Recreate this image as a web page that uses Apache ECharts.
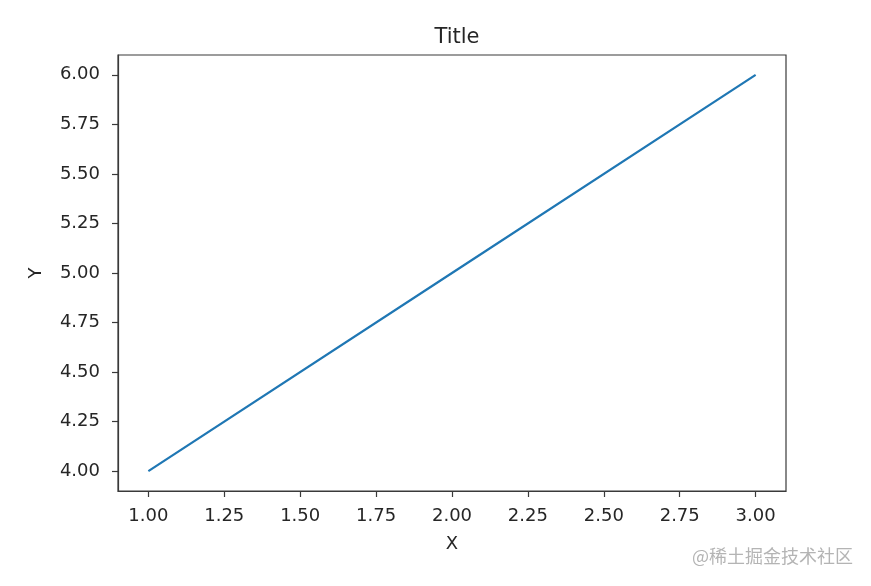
<!DOCTYPE html>
<html>
<head>
<meta charset="utf-8">
<script src="https://cdn.jsdelivr.net/npm/echarts@6/dist/echarts.min.js"></script>
<style>
html,body{margin:0;padding:0;background:#fff;}
#c{width:871px;height:586px;}
</style>
</head>
<body>
<div id="c"></div>
<script>
var xValues = [1, 2, 3];
var yValues = [4, 5, 6];
var xTicks = [1.00, 1.25, 1.50, 1.75, 2.00, 2.25, 2.50, 2.75, 3.00];
var yTicks = [4.00, 4.25, 4.50, 4.75, 5.00, 5.25, 5.50, 5.75, 6.00];
var titleText = 'Title';
var xName = 'X';
var yName = 'Y';
var watermark = '@稀土掘金技术社区';

var font = '"DejaVu Sans", sans-serif';
var textColor = '#262626';
var axisColor = '#3a3a3a';

var chart = echarts.init(document.getElementById('c'), null, {renderer: 'canvas'});
var option = {
  backgroundColor: '#fff',
  animation: false,
  title: {
    text: titleText,
    left: 452,
    textAlign: 'center',
    top: 22,
    textStyle: {fontFamily: font, fontSize: 21, fontWeight: 'normal', color: textColor}
  },
  grid: {
    left: 118, right: 85, top: 55, bottom: 95,
    show: true, borderColor: axisColor, borderWidth: 1.2, backgroundColor: 'transparent'
  },
  xAxis: {
    type: 'value',
    min: 0.9, max: 3.1,
    name: xName, nameLocation: 'middle', nameGap: 44,
    nameTextStyle: {fontFamily: font, fontSize: 18, color: textColor},
    axisLine: {show: true, onZero: false, lineStyle: {color: axisColor, width: 1.2}},
    axisTick: {show: true, customValues: xTicks, length: 6, lineStyle: {color: axisColor, width: 1.2}},
    axisLabel: {
      customValues: xTicks, margin: 16,
      fontFamily: font, fontSize: 18, color: textColor,
      formatter: function (v) { return Number(v).toFixed(2); }
    },
    splitLine: {show: false}
  },
  yAxis: {
    type: 'value',
    min: 3.9, max: 6.1,
    name: yName, nameLocation: 'middle', nameGap: 73,
    nameTextStyle: {fontFamily: font, fontSize: 18, color: textColor},
    axisLine: {show: true, onZero: false, lineStyle: {color: axisColor, width: 1.2}},
    axisTick: {show: true, customValues: yTicks, length: 6, lineStyle: {color: axisColor, width: 1.2}},
    axisLabel: {
      customValues: yTicks, margin: 18,
      fontFamily: font, fontSize: 18, color: textColor,
      formatter: function (v) { return Number(v).toFixed(2); }
    },
    splitLine: {show: false}
  },
  series: [{
    type: 'line',
    data: xValues.map(function (x, i) { return [x, yValues[i]]; }),
    showSymbol: false,
    lineStyle: {color: '#1f77b4', width: 2.2},
    itemStyle: {color: '#1f77b4'}
  }],
  graphic: [{
    type: 'text',
    left: 692, top: 547,
    style: {
      text: watermark,
      font: '18px "Noto Sans CJK SC", sans-serif',
      fill: '#b4b4b4'
    }
  }]
};
chart.setOption(option);
</script>
</body>
</html>
